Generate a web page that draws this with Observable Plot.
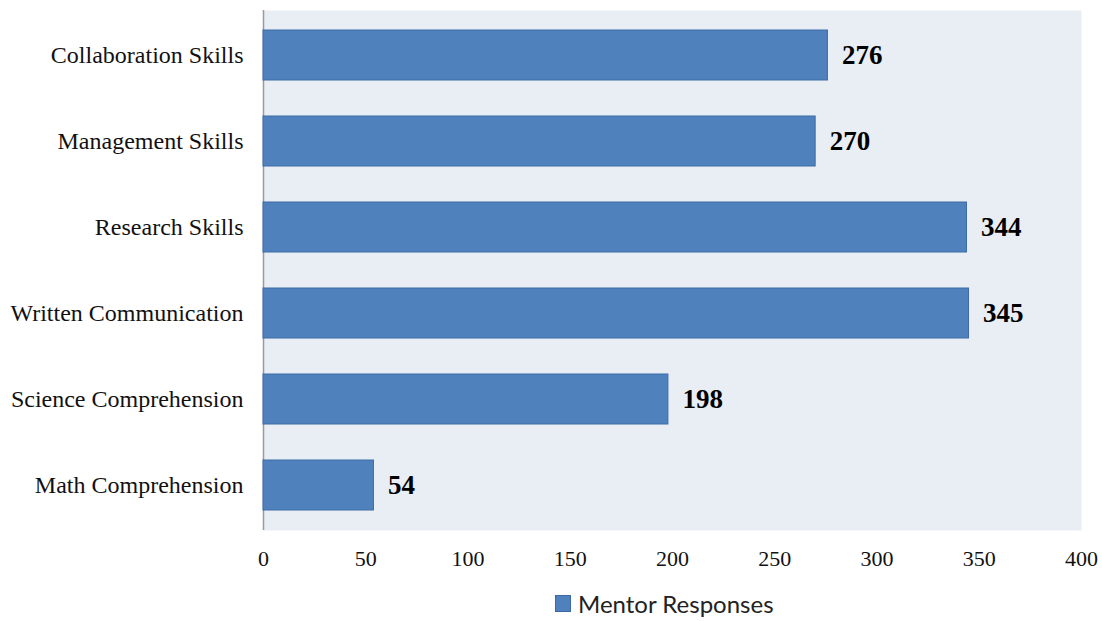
<!DOCTYPE html>
<html>
<head>
<meta charset="utf-8">
<script src="https://cdn.jsdelivr.net/npm/d3@7"></script>
<script src="https://cdn.jsdelivr.net/npm/@observablehq/plot@0.6"></script>
<style>
  body { margin: 0; background: #fff; }
  #legend {
    display: flex; align-items: center; margin-left: 555px; margin-top: 14px;
    font-family: Lato, "Open Sans", sans-serif; font-size: 24px; color: #222;
  }
  #legend .sw { width: 14px; height: 15px; background: #4f81bd; border: 1px solid #3b6aa3; margin-right: 7px; }
</style>
</head>
<body>
<div id="chart"></div>
<div id="legend"><span class="sw"></span><span>Mentor Responses</span></div>
<script>
// Mentor survey: skills mentors reported, top to bottom
const categories = [
  "Collaboration Skills",
  "Management Skills",
  "Research Skills",
  "Written Communication",
  "Science Comprehension",
  "Math Comprehension"
];
const responses = [276, 270, 344, 345, 198, 54];
const xTicks = [0, 50, 100, 150, 200, 250, 300, 350, 400];
const seriesName = "Mentor Responses";

const data = categories.map((c, i) => ({category: c, value: responses[i], series: seriesName}));

const chart = Plot.plot({
  width: 1102,
  height: 575,
  marginTop: 10,
  marginBottom: 45,
  marginLeft: 263,
  marginRight: 21,
  style: {fontFamily: "'Liberation Serif', 'Times New Roman', serif", fontSize: "22px", color: "#111"},
  x: {domain: [0, 400], ticks: xTicks, tickSize: 0, tickPadding: 20, label: null},
  y: {domain: categories, paddingInner: 0.42, paddingOuter: 0.21, tickSize: 0, tickPadding: 20, label: null},
  marks: [
    Plot.frame({fill: "#e9edf4", stroke: null}),
    Plot.axisY({tickSize: 0, tickPadding: 20, fontSize: 24, label: null}),
    Plot.ruleX([0], {stroke: "#9a9a9a", strokeWidth: 1.5}),
    Plot.ruleY([0], {frameAnchor: "bottom", stroke: "#9a9a9a", strokeWidth: 1.5}),
    Plot.barX(data, {x: "value", y: "category", fill: "#4f81bd", stroke: "#3d6ca6", strokeWidth: 1}),
    Plot.text(data, {
      x: "value", y: "category", text: d => String(d.value),
      textAnchor: "start", dx: 14, fontWeight: "bold", fontSize: 27, fill: "#000"
    })
  ]
});
document.getElementById("chart").append(chart);
</script>
</body>
</html>
